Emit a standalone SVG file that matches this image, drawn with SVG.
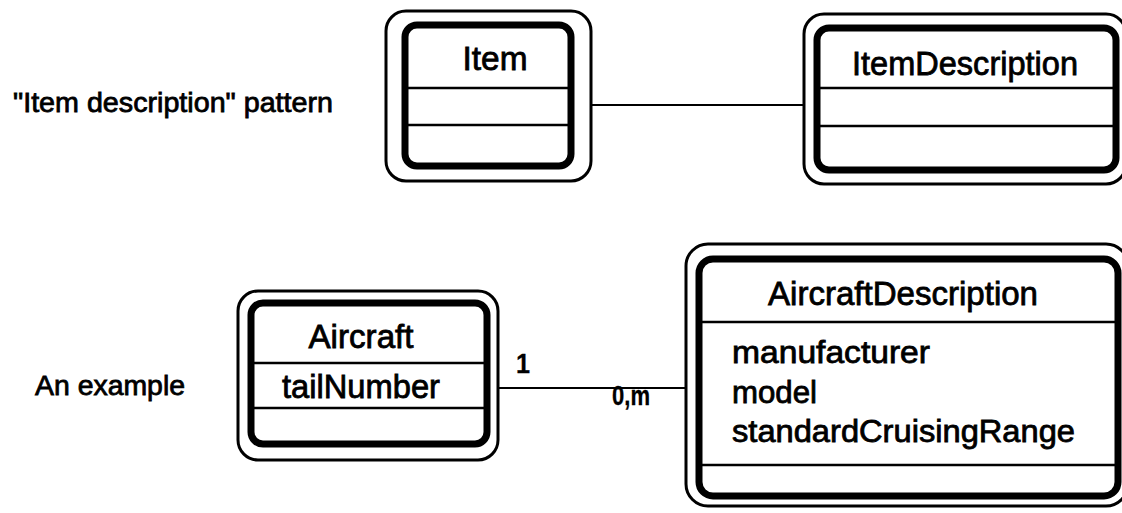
<svg xmlns="http://www.w3.org/2000/svg" width="1122" height="513" viewBox="0 0 1122 513">
<style>
  .outer { fill: none; stroke: #000; stroke-width: 3; }
  .inner { fill: #fff; stroke: #000; stroke-width: 7; }
  .div { stroke: #000; stroke-width: 2.5; }
  .conn { stroke: #000; stroke-width: 2; fill: none; }
  text { font-family: "Liberation Sans", Arial, sans-serif; fill: #000; stroke: #000; stroke-width: 0.8; }
  .title { font-size: 33px; text-anchor: middle; }
  .attr { font-size: 31px; }
  .label { font-size: 28px; }
  .mult { font-size: 28px; font-weight: bold; stroke-width: 0.3; }
</style>
<rect width="1122" height="513" fill="#fff"/>
<g id="connectors">
  <line class="conn" x1="591" y1="105" x2="804" y2="105"/>
  <line class="conn" x1="498" y1="388" x2="686" y2="388"/>
  <text class="mult" x="516" y="373" textLength="14" lengthAdjust="spacingAndGlyphs">1</text>
  <text class="mult" x="612" y="405" textLength="38" lengthAdjust="spacingAndGlyphs">0,m</text>
</g>
<g id="label-pattern">
  <text class="label" x="13" y="112" textLength="320" lengthAdjust="spacingAndGlyphs">"Item description" pattern</text>
</g>
<g id="label-example">
  <text class="label" x="35" y="395" textLength="150" lengthAdjust="spacingAndGlyphs">An example</text>
</g>
<g id="item">
  <rect class="outer" x="386" y="11" width="205" height="170" rx="20"/>
  <rect class="inner" x="405" y="25" width="166" height="141" rx="12"/>
  <line class="div" x1="405" y1="88" x2="571" y2="88"/>
  <line class="div" x1="405" y1="125" x2="571" y2="125"/>
  <text class="title" x="495" y="70" textLength="65" lengthAdjust="spacingAndGlyphs">Item</text>
</g>
<g id="item-description">
  <rect class="outer" x="804" y="14" width="322" height="170" rx="20"/>
  <rect class="inner" x="817" y="28" width="299" height="142" rx="12"/>
  <line class="div" x1="817" y1="88" x2="1116" y2="88"/>
  <line class="div" x1="817" y1="126" x2="1116" y2="126"/>
  <text class="title" x="965" y="75" textLength="226" lengthAdjust="spacingAndGlyphs">ItemDescription</text>
</g>
<g id="aircraft">
  <rect class="outer" x="238" y="291" width="260" height="169" rx="20"/>
  <rect class="inner" x="251" y="303" width="236" height="141" rx="12"/>
  <line class="div" x1="251" y1="363" x2="487" y2="363"/>
  <line class="div" x1="251" y1="408" x2="487" y2="408"/>
  <text class="title" x="361" y="348" textLength="105" lengthAdjust="spacingAndGlyphs">Aircraft</text>
  <text class="title" x="361" y="398" textLength="158" lengthAdjust="spacingAndGlyphs">tailNumber</text>
</g>
<g id="aircraft-description">
  <rect class="outer" x="686" y="244" width="442" height="262" rx="22"/>
  <rect class="inner" x="699" y="259" width="419" height="237" rx="14"/>
  <line class="div" x1="699" y1="322" x2="1118" y2="322"/>
  <line class="div" x1="699" y1="465" x2="1118" y2="465"/>
  <text class="title" x="903" y="305" textLength="270" lengthAdjust="spacingAndGlyphs">AircraftDescription</text>
  <text class="attr" x="732" y="363" textLength="198" lengthAdjust="spacingAndGlyphs">manufacturer</text>
  <text class="attr" x="732" y="403" textLength="85" lengthAdjust="spacingAndGlyphs">model</text>
  <text class="attr" x="732" y="442" textLength="343" lengthAdjust="spacingAndGlyphs">standardCruisingRange</text>
</g>
</svg>
